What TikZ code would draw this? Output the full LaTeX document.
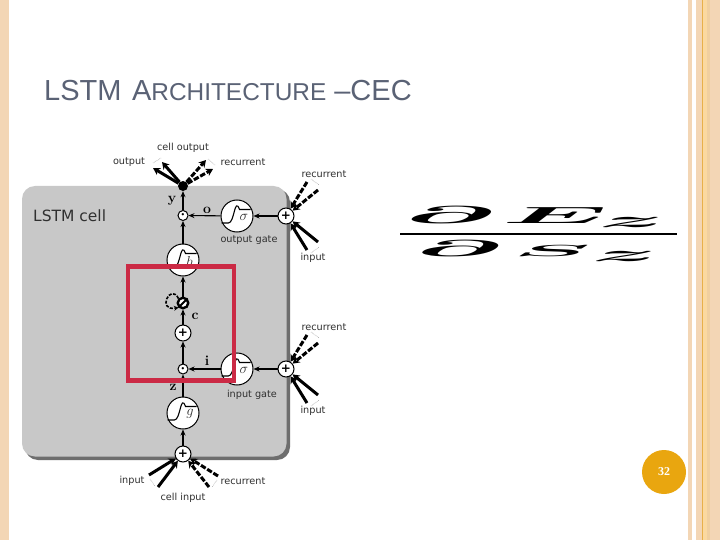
\documentclass[tikz,border=0pt]{standalone}
\usepackage{fontspec}
\usepackage{graphicx}
\usetikzlibrary{arrows.meta}
\setsansfont{DejaVu Sans}
\newfontfamily\titlefont{Liberation Sans}
\newfontfamily\numfont{Liberation Serif}
\definecolor{stripe}{HTML}{F3D6B5}
\definecolor{stripeB}{HTML}{E8B04A}
\definecolor{stripeC}{HTML}{FBD9A0}
\definecolor{stripeD}{HTML}{F0CFA0}
\definecolor{titlecol}{HTML}{5A6275}
\definecolor{cellgray}{HTML}{C8C8C8}
\definecolor{shadowgray}{HTML}{6E6E6E}
\definecolor{redbox}{HTML}{CB2A45}
\definecolor{badge}{HTML}{E9A60F}
\definecolor{lab}{HTML}{303030}
\newcommand{\sigcurve}[2]{%
  \draw[line width=1.1pt] (#1.center) ++(-15.5,7) -- ++(7,0) .. controls +(6,0) and +(-5,-13.5) .. ++(11,-13.5) -- ++(11,0);
  \node[font=\itshape\fontsize{14}{14}\selectfont,text=lab] at ([shift={(7,1)}]#1.center) {#2};}
\newcommand{\bgl}[3]{\resizebox{#1pt}{#2pt}{\boldmath$#3$}}
\newcommand{\cdotmark}{{\fontsize{8}{8}\selectfont\textbullet}}
\tikzset{
  x=1pt,y=-1pt,
  txt/.style={font=\sffamily\fontsize{9.7}{10}\selectfont,text=lab,inner sep=0},
  vlab/.style={font=\bfseries\fontsize{14}{14}\selectfont,text=black,inner sep=0},
  bigc/.style={circle,draw=black,fill=white,line width=1pt,minimum size=32pt,inner sep=0},
  plusn/.style={circle,draw=black,fill=white,line width=1pt,minimum size=16pt,inner sep=0,font=\sffamily\bfseries\fontsize{12}{12}\selectfont},
  dotn/.style={circle,draw=black,fill=white,line width=1pt,minimum size=10pt,inner sep=0},
  conn/.style={line width=1.1pt,-{Stealth[length=6pt,width=5pt]}},
  sol/.style={line width=3pt,black,-{Stealth[length=7pt,width=8pt]}},
  dsh/.style={line width=3pt,black,dash pattern=on 5.5pt off 1.8pt,-{Stealth[length=7pt,width=8pt]}},
  dots/.style={line width=0.5pt,gray,densely dotted},
}
\begin{document}
\begin{tikzpicture}
\useasboundingbox (0,0) rectangle (720,540);
\fill[white] (0,0) rectangle (720,540);
% stripes
\fill[stripe] (0,0) rectangle (8.5,540);
\fill[stripe] (688,0) rectangle (692,540);
\fill[stripe] (696,0) rectangle (720,540);
\fill[stripeB] (702,0) rectangle (703,540);
\fill[stripeC] (703,0) rectangle (707,540);
\fill[stripeD] (707,0) rectangle (710,540);
% title
\node[anchor=base west,inner sep=0,text=titlecol,font=\titlefont] (title) at (44,101)
  {\fontsize{29}{29}\selectfont LSTM\hspace{2.5pt} A\fontsize{24.4}{24}\selectfont RCHITECTURE\fontsize{29}{29}\selectfont{} –CEC};
% cell
\fill[shadowgray,rounded corners=13pt] (25,189) rectangle (290,460);
\fill[cellgray,rounded corners=13pt] (22,186) rectangle (286.5,456.5);
\node[anchor=west,font=\sffamily\fontsize{15.5}{16}\selectfont,text=lab,inner sep=0] (celllab) at (33,216) {LSTM cell};
% nodes
\node[circle,fill=black,minimum size=10pt,inner sep=0] (junc) at (183,186) {};
\node[dotn] (dota) at (183,215.5) {\cdotmark};
\node[bigc] (sigo) at (237,216) {};
\node[plusn] (pluso) at (286,216) {+};
\node[bigc] (hh) at (183,260) {};
\node[circle,draw=black,fill=white,line width=2.4pt,minimum size=10.5pt,inner sep=0] (block) at (183,303) {};
\node[plusn] (plusc) at (183,333) {+};
\node[dotn] (dotb) at (183,369) {\cdotmark};
\node[bigc] (sigi) at (237,369) {};
\node[plusn] (plusi) at (286,369) {+};
\node[bigc] (gg) at (183,413) {};
\node[plusn] (plusb) at (183,454) {+};
\sigcurve{sigo}{$\sigma$}
\sigcurve{sigi}{$\sigma$}
\sigcurve{hh}{$h$}
\sigcurve{gg}{$g$}
% connectors
\draw[conn] (plusb) -- (gg);
\draw[conn] (gg) -- (dotb);
\draw[conn] (dotb) -- (plusc);
\draw[conn] (plusc) -- (block);
\draw[conn] (block) -- (hh);
\draw[conn] (hh) -- (dota);
\draw[conn] (dota) -- (junc);
\draw[conn] (sigo) -- (dota);
\draw[conn] (pluso) -- (sigo);
\draw[conn] (sigi) -- (dotb);
\draw[conn] (plusi) -- (sigi);
\draw[line width=1.8pt] (block.south west) -- (block.north east);
\draw[line width=1.6pt,black,dash pattern=on 3pt off 1.5pt,-{Stealth[length=4.5pt,width=5pt]}]
  (block.north west) .. controls +(-8,-16) and +(-22,4) .. (block.south west);
% coordinates of free ends
\coordinate (ta) at (153,168); \coordinate (tb) at (162,162);
\coordinate (tc) at (206,160); \coordinate (td) at (213,169);
\coordinate (ra) at (307,182); \coordinate (rb) at (318,190);
\coordinate (rc) at (307,250); \coordinate (rd) at (318,242);
\coordinate (sa) at (307,335); \coordinate (sb) at (318,343);
\coordinate (sc) at (307,403); \coordinate (sd) at (318,395);
\coordinate (ba) at (149,475); \coordinate (bb) at (158,487);
\coordinate (bc) at (218,476); \coordinate (bd) at (209,487);
\draw[sol] (junc) -- (ta);
\draw[sol] (junc) -- (tb);
\draw[dsh] (junc) -- (tc);
\draw[dsh] (junc) -- (td);
\draw[dsh] (ra) -- (pluso);
\draw[dsh] (rb) -- (pluso);
\draw[sol] (rc) -- (pluso);
\draw[sol] (rd) -- (pluso);
\draw[dsh] (sa) -- (plusi);
\draw[dsh] (sb) -- (plusi);
\draw[sol] (sc) -- (plusi);
\draw[sol] (sd) -- (plusi);
\draw[sol] (ba) -- (plusb);
\draw[sol] (bb) -- (plusb);
\draw[dsh] (bc) -- (plusb);
\draw[dsh] (bd) -- (plusb);
\draw[dots] (ta) ++(0,-5) -- ++(8,-5);
\draw[dots] (tc) ++(2,-1) -- ++(7,6);
\draw[dots] (ra) ++(4,-3) -- ++(8,6);
\draw[dots] (rc) ++(4,3) -- ++(8,-6);
\draw[dots] (sa) ++(4,-3) -- ++(8,6);
\draw[dots] (sc) ++(4,3) -- ++(8,-6);
\draw[dots] (ba) ++(1,4) -- ++(5,7);
\draw[dots] (bc) ++(-1,4) -- ++(-5,7);
% labels
\node[txt] (l1) at (183,148) {cell output};
\node[txt] (l2) at (129,162) {output};
\node[txt] (l3) at (243,162) {recurrent};
\node[txt] (l4) at (324,174) {recurrent};
\node[txt] (l5) at (313,258) {input};
\node[txt] (l6) at (249,240) {output gate};
\node[txt] (l7) at (324,327) {recurrent};
\node[txt] (l8) at (313,411) {input};
\node[txt] (l9) at (252,395) {input gate};
\node[txt] (l10) at (132,481) {input};
\node[txt] (l11) at (243,481) {recurrent};
\node[txt] (l12) at (183,498) {cell input};
\node[vlab] (vy) at (172,201) {y};
\node[vlab] (vo) at (207,210) {o};
\node[vlab] (vc) at (195,316) {c};
\node[vlab] (vi) at (207,361) {i};
\node[vlab] (vz) at (173,387) {z};
% red box
\draw[redbox,line width=4.4pt] (128,266.5) rectangle (234,380.5);
% formula
\node[inner sep=0] (fa) at (450,214.5) {\bgl{92}{17}{\partial}};
\node[inner sep=0] (fb) at (555,215) {\bgl{106}{16}{E}};
\node[inner sep=0] (fc) at (631.5,222) {\bgl{66}{10}{z}};
\coordinate (ruleL) at (400,234); \coordinate (ruleR) at (677,234);
\draw[line width=2pt] (ruleL) -- (ruleR);
\node[inner sep=0] (fd) at (459,248) {\bgl{88}{16}{\partial}};
\node[inner sep=0] (fe) at (552,250.5) {\bgl{78}{11}{S}};
\node[inner sep=0] (ff) at (624.5,256) {\bgl{66}{10}{z}};
% page badge
\node[circle,fill=badge,minimum size=44pt,inner sep=0,text=white,font=\numfont\bfseries\fontsize{12}{12}\selectfont] (page) at (664,472) {32};
\end{tikzpicture}
\end{document}
